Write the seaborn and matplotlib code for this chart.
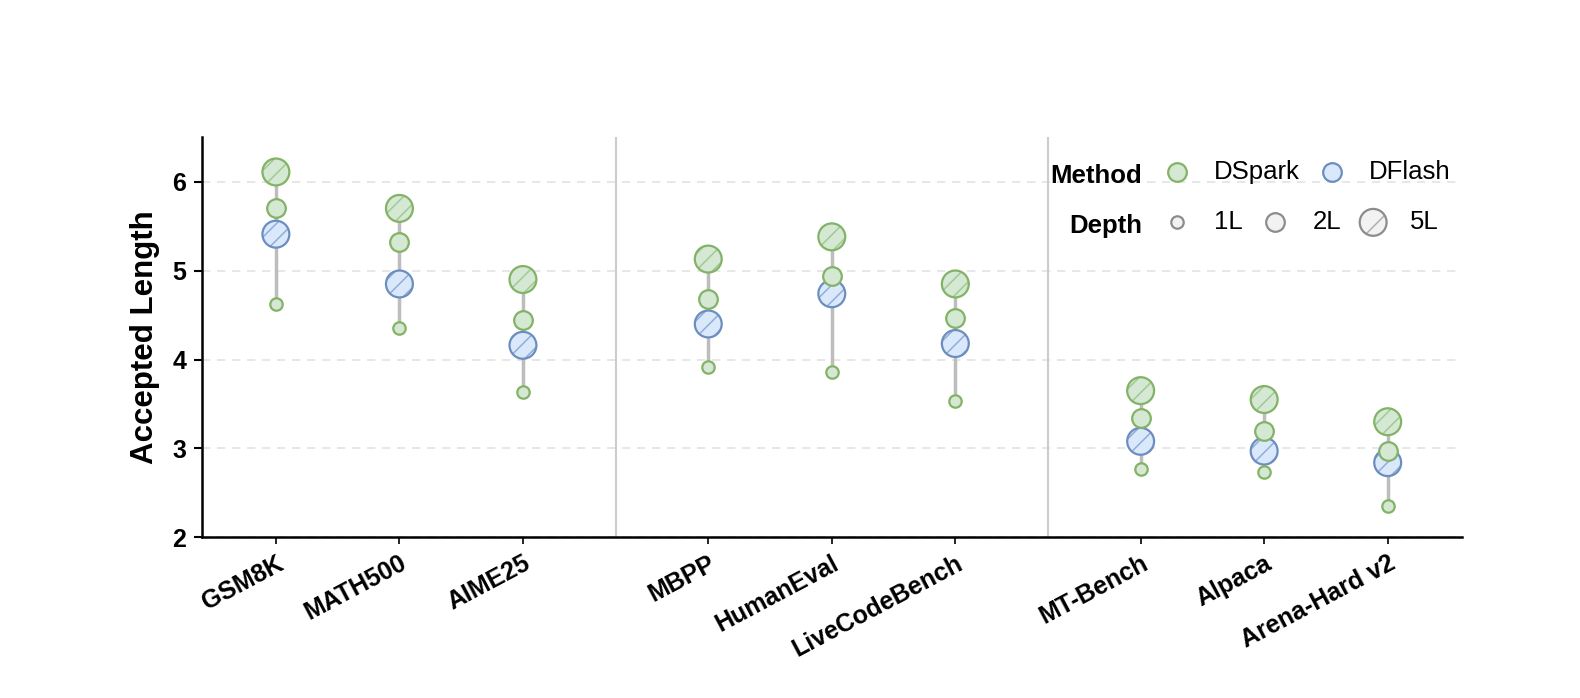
import numpy as np
import pandas as pd
import matplotlib
matplotlib.use("Agg")
import matplotlib.pyplot as plt
import seaborn as sns
from matplotlib.legend_handler import HandlerTuple

# data
benchmarks = ["GSM8K", "MATH500", "AIME25",
              "MBPP", "HumanEval", "LiveCodeBench",
              "MT-Bench", "Alpaca", "Arena-Hard v2"]
groups = [0, 0, 0, 1, 1, 1, 2, 2, 2]
dspark_1l = [4.62, 4.35, 3.64, 3.92, 3.86, 3.53, 2.77, 2.73, 2.35]
dspark_2l = [5.70, 5.32, 4.44, 4.68, 4.94, 4.47, 3.34, 3.20, 2.97]
dspark_5l = [6.11, 5.70, 4.90, 5.13, 5.38, 4.85, 3.65, 3.55, 3.30]
dflash_5l = [5.41, 4.85, 4.16, 4.40, 4.74, 4.18, 3.08, 2.97, 2.84]

GREEN_FACE, GREEN_EDGE, GREEN_HATCH = "#d5e8d4", "#82b366", "#a3c994"
BLUE_FACE, BLUE_EDGE, BLUE_HATCH = "#dae8fc", "#6c8ebf", "#94acd6"
GRAY_FACE, GRAY_EDGE, GRAY_HATCH = "#f2f2f2", "#8c8c8c", "#b0b0b0"
S1, S2, S5 = 80, 180, 375
LW = 1.6

df = pd.DataFrame({"bench": benchmarks, "group": groups,
                   "d1": dspark_1l, "d2": dspark_2l, "d5": dspark_5l, "fl": dflash_5l})
df["pos"] = np.arange(len(df)) + 0.5 * df["group"]

sns.set_style("ticks")
plt.rcParams["font.family"] = ["Liberation Sans", "DejaVu Sans"]
plt.rcParams["hatch.linewidth"] = 1.1
for k in ["text.color", "axes.labelcolor", "xtick.color", "ytick.color"]:
    plt.rcParams[k] = "black"

fig = plt.figure(figsize=(15.8, 6.98), dpi=100)
ax = fig.add_axes([0.1277, 0.2302, 0.7975, 0.5731])

# group separators
for g in range(df["group"].max()):
    left = df.loc[df["group"] == g, "pos"].max()
    right = df.loc[df["group"] == g + 1, "pos"].min()
    ax.axvline((left + right) / 2, color="#cccccc", lw=1.5, zorder=1)

# range stems
lo = df[["d1", "d2", "d5", "fl"]].min(axis=1)
hi = df[["d1", "d2", "d5", "fl"]].max(axis=1)
ax.vlines(df["pos"], lo, hi, color="#bdbdbd", lw=2.5, zorder=2)


def hatched(y, face, edge, hcol, z):
    sns.scatterplot(x=df["pos"], y=df[y], s=S5, color=face, edgecolor=hcol,
                    linewidth=0, hatch="//", ax=ax, zorder=z, legend=False)
    sns.scatterplot(x=df["pos"], y=df[y], s=S5, facecolor="none", edgecolor=edge,
                    linewidth=LW, ax=ax, zorder=z + 0.1, legend=False)


hatched("fl", BLUE_FACE, BLUE_EDGE, BLUE_HATCH, 3)
sns.scatterplot(x=df["pos"], y=df["d1"], s=S1, color=GREEN_FACE, edgecolor=GREEN_EDGE,
                linewidth=LW, ax=ax, zorder=4, legend=False)
sns.scatterplot(x=df["pos"], y=df["d2"], s=S2, color=GREEN_FACE, edgecolor=GREEN_EDGE,
                linewidth=LW, ax=ax, zorder=5, legend=False)
hatched("d5", GREEN_FACE, GREEN_EDGE, GREEN_HATCH, 6)

ax.set_xlim(-0.6, df["pos"].max() + 0.6)
ax.set_ylim(2, 6.5)
ax.set_yticks([2, 3, 4, 5, 6])
ax.set_xticks(df["pos"])
ax.set_xticklabels(df["bench"], rotation=28, ha="right", rotation_mode="anchor",
                   fontsize=18, fontweight="bold")
for lab in ax.get_yticklabels():
    lab.set_fontsize(18)
    lab.set_fontweight("bold")
ax.tick_params(axis="y", length=6, width=1.5, pad=5)
ax.tick_params(axis="x", length=5, width=1.2, pad=5)
ax.set_ylabel("Accepted Length", fontsize=22.5, fontweight="bold", labelpad=9)
ax.set_xlabel("")
ax.yaxis.grid(True, linestyle=(0, (5, 4)), color="#e3e3e3", lw=1.2, zorder=0)
ax.set_axisbelow(True)
sns.despine(ax=ax)
for sp in ["left", "bottom"]:
    ax.spines[sp].set_linewidth(1.8)
    ax.spines[sp].set_color("black")

# legend
def dummy(s, face, edge, hatch=None, lw=LW):
    return ax.scatter([], [], s=s, facecolor=face, edgecolor=edge, linewidth=lw, hatch=hatch)

h_spark = dummy(S2, GREEN_FACE, GREEN_EDGE)
h_flash = dummy(S2, BLUE_FACE, BLUE_EDGE)
h_1l = dummy(S1, GRAY_FACE, GRAY_EDGE)
h_2l = dummy(S2, GRAY_FACE, GRAY_EDGE)
h_5l = (dummy(S5, GRAY_FACE, GRAY_HATCH, hatch="/", lw=0), dummy(S5, "none", GRAY_EDGE))

fs = 18.5
kw = dict(loc="center left", frameon=False, borderpad=0, borderaxespad=0,
          handlelength=1.5, handletextpad=0.7, fontsize=fs, scatterpoints=1,
          handler_map={tuple: HandlerTuple(ndivide=1, pad=0)})
leg1 = ax.legend([h_spark, h_flash], ["DSpark", "DFlash"], ncol=2, columnspacing=0.47,
                 bbox_to_anchor=(0.7587, 0.913), **kw)
ax.add_artist(leg1)
leg2 = ax.legend([h_1l, h_2l, h_5l], ["1L", "2L", "5L"], ncol=3, columnspacing=0.5,
                 bbox_to_anchor=(0.7587, 0.788), **kw)
ax.text(0.7463, 0.909, "Method", transform=ax.transAxes, ha="right", va="center_baseline",
        fontsize=fs, fontweight="bold")
ax.text(0.7463, 0.784, "Depth", transform=ax.transAxes, ha="right", va="center_baseline",
        fontsize=fs, fontweight="bold")

fig.savefig("out.png", dpi=100)
